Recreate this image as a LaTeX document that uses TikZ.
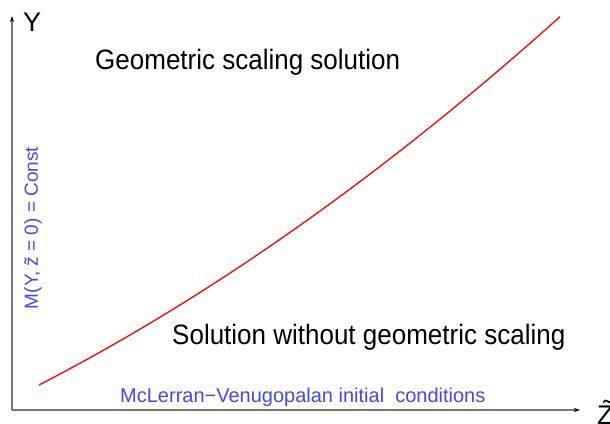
\documentclass[tikz,border=0pt]{standalone}
\usepackage{fontspec}
\setmainfont{Liberation Sans}
\usetikzlibrary{arrows.meta}
\definecolor{lblblue}{RGB}{70,70,245}
\definecolor{axisgray}{RGB}{120,120,120}
\tikzset{
  axisline/.style={draw=axisgray,line width=1.1pt,-{Stealth[length=6pt,width=4pt,color=black]}},
  bigtxt/.style={font=\fontsize{26}{28}\selectfont,inner sep=0pt,yscale=1.08},
  axlbl/.style={font=\fontsize{27}{29}\selectfont,inner sep=0pt},
  bluetxt/.style={font=\fontsize{20}{22}\selectfont,text=lblblue,inner sep=0pt},
  curve/.style={draw=red,line width=1.3pt}
}
\begin{document}
\begin{tikzpicture}[x=1pt,y=-1pt]
\useasboundingbox (0,0) rectangle (610,423);
\coordinate (O) at (12,410);
\coordinate (ytop) at (12,16);
\coordinate (xend) at (580,410);
\draw[axisline] (O) -- (ytop);
\draw[axisline] (O) -- (xend);
\node[axlbl,anchor=west] (ylab) at (23,22) {Y};
\node[axlbl,anchor=base west] (zlab) at (597,424) {\~{Z}};
\draw[curve] plot[domain=39:560,samples=80] (\x,{410-(5.42+0.4876*\x+0.0003716*\x*\x)});
\node[bigtxt,anchor=west] (geo) at (95,62) {Geometric scaling solution};
\node[bigtxt,anchor=west] (nogeo) at (172,337) {Solution without geometric scaling};
\node[bluetxt,anchor=west] (mv) at (120,397) {McLerran\textminus Venugopalan initial\ \ conditions};
\node[bluetxt,font=\fontsize{19}{21}\selectfont,rotate=90] (mc) at (33,228) {M(Y, \~{z} = 0) = Const};
\end{tikzpicture}
\end{document}
